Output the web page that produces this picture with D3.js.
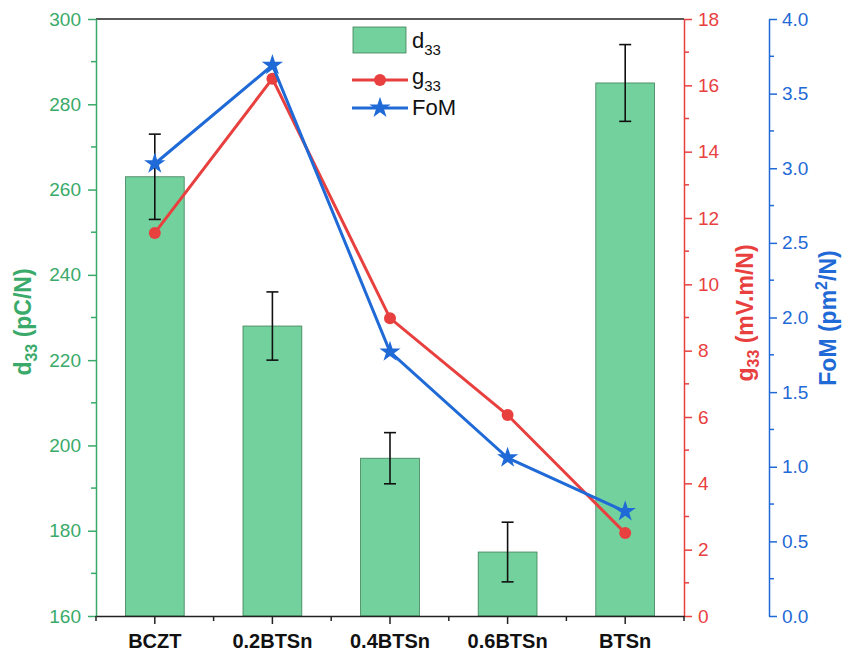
<!DOCTYPE html>
<html>
<head>
<meta charset="utf-8">
<script src="https://cdn.jsdelivr.net/npm/d3@7"></script>
<style>
  body { margin: 0; background: #fff; }
  text { font-family: "Liberation Sans", Arial, sans-serif; }
</style>
</head>
<body>
<svg id="chart" width="844" height="652"></svg>
<script>
const categories = ['BCZT', '0.2BTSn', '0.4BTSn', '0.6BTSn', 'BTSn']
const d33 = [263, 228, 197, 175, 285]
const d33Err = [10, 8, 6, 7, 9]
const g33 = [11.55, 16.2, 8.98, 6.06, 2.5]
const fom = [3.03, 3.69, 1.77, 1.06, 0.7]
const d33Ticks = [160, 180, 200, 220, 240, 260, 280, 300]
const g33Ticks = [0, 2, 4, 6, 8, 10, 12, 14, 16, 18]
const fomTicks = [0, 0.5, 1, 1.5, 2, 2.5, 3, 3.5, 4]

const GREEN = '#3aaa6a'
const BAR = '#72d19c'
const RED = '#e8403f'
const BLUE = '#1f6ad6'

const plotLeft = 96
const plotRight = 684
const plotTop = 19
const plotBottom = 616
const blueX = 769

const svg = d3.select('#chart')

const x = d3.scaleBand().domain(categories).range([plotLeft, plotRight])
  .paddingInner(0.5).paddingOuter(0.25)
const yD = d3.scaleLinear().domain([160, 300]).range([plotBottom, plotTop])
const yG = d3.scaleLinear().domain([0, 18]).range([plotBottom, plotTop])
const yF = d3.scaleLinear().domain([0, 4]).range([plotBottom, plotTop])

// bars
svg.append('g')
  .selectAll('rect')
  .data(categories)
  .enter()
  .append('rect')
  .attr('x', d => x(d))
  .attr('y', (d, i) => yD(d33[i]))
  .attr('width', x.bandwidth())
  .attr('height', (d, i) => plotBottom - yD(d33[i]))
  .attr('fill', BAR)
  .attr('stroke', '#3f7f58')
  .attr('stroke-width', 0.8)

// error bars
const cx = d => x(d) + x.bandwidth() / 2
const err = svg.append('g').attr('stroke', '#111').attr('stroke-width', 1.6)
categories.forEach((c, i) => {
  const hi = yD(d33[i] + d33Err[i])
  const lo = yD(d33[i] - d33Err[i])
  err.append('line').attr('x1', cx(c)).attr('x2', cx(c)).attr('y1', hi).attr('y2', lo)
  err.append('line').attr('x1', cx(c) - 6).attr('x2', cx(c) + 6).attr('y1', hi).attr('y2', hi)
  err.append('line').attr('x1', cx(c) - 6).attr('x2', cx(c) + 6).attr('y1', lo).attr('y2', lo)
})

// g33 line
svg.append('path')
  .datum(categories)
  .attr('fill', 'none')
  .attr('stroke', RED)
  .attr('stroke-width', 3)
  .attr('d', d3.line().x(d => cx(d)).y((d, i) => yG(g33[i])))

svg.append('g')
  .selectAll('circle')
  .data(categories)
  .enter()
  .append('circle')
  .attr('cx', d => cx(d))
  .attr('cy', (d, i) => yG(g33[i]))
  .attr('r', 6)
  .attr('fill', RED)

// FoM line
svg.append('path')
  .datum(categories)
  .attr('fill', 'none')
  .attr('stroke', BLUE)
  .attr('stroke-width', 3)
  .attr('d', d3.line().x(d => cx(d)).y((d, i) => yF(fom[i])))

const star = d3.symbol().type(d3.symbolStar).size(140)
svg.append('g')
  .selectAll('path')
  .data(categories)
  .enter()
  .append('path')
  .attr('transform', (d, i) => `translate(${cx(d)},${yF(fom[i])})`)
  .attr('d', star)
  .attr('fill', BLUE)

// frame top
svg.append('line')
  .attr('x1', plotLeft).attr('x2', plotRight).attr('y1', plotTop).attr('y2', plotTop)
  .attr('stroke', '#222').attr('stroke-width', 1.5)

// minor ticks helper
function minorTicks (g, scale, values, len, dir, color) {
  g.selectAll('.minor')
    .data(values)
    .enter()
    .append('line')
    .attr('class', 'minor')
    .attr('x1', 0).attr('x2', dir * len)
    .attr('y1', d => scale(d)).attr('y2', d => scale(d))
    .attr('stroke', color).attr('stroke-width', 1.5)
}

function styleAxis (g, color) {
  g.select('.domain').attr('stroke', color).attr('stroke-width', 1.5)
  g.selectAll('.tick line').attr('stroke', color).attr('stroke-width', 1.5)
  g.selectAll('.tick text').attr('fill', color).style('font-size', '19px')
}

// left axis
const gL = svg.append('g').attr('transform', `translate(${plotLeft},0)`)
  .call(d3.axisLeft(yD).tickValues(d33Ticks).tickSize(8).tickSizeOuter(0).tickPadding(7))
styleAxis(gL, GREEN)
minorTicks(gL, yD, d3.range(170, 300, 20), 5, -1, GREEN)

// red right axis
const gR = svg.append('g').attr('transform', `translate(${plotRight},0)`)
  .call(d3.axisRight(yG).tickValues(g33Ticks).tickSize(8).tickSizeOuter(0).tickPadding(6))
styleAxis(gR, RED)
minorTicks(gR, yG, d3.range(1, 18, 2), 5, 1, RED)

// blue right axis
const gB = svg.append('g').attr('transform', `translate(${blueX},0)`)
  .call(d3.axisRight(yF).tickValues(fomTicks).tickSize(8).tickSizeOuter(0).tickPadding(5)
    .tickFormat(d3.format('.1f')))
styleAxis(gB, BLUE)
minorTicks(gB, yF, d3.range(0.25, 4, 0.5), 5, 1, BLUE)

// bottom axis
const gX = svg.append('g').attr('transform', `translate(0,${plotBottom})`)
  .call(d3.axisBottom(x).tickSize(8).tickSizeOuter(0).tickPadding(10))
gX.select('.domain').attr('stroke', '#222').attr('stroke-width', 1.5)
gX.selectAll('.tick line').attr('stroke', '#222').attr('stroke-width', 1.5)
gX.selectAll('.tick text').attr('fill', '#111').style('font-size', '20px').style('font-weight', 'bold')
const step = x.step()
gX.selectAll('.minor')
  .data(d3.range(0, categories.length + 1))
  .enter()
  .append('line')
  .attr('x1', i => plotLeft + i * step).attr('x2', i => plotLeft + i * step)
  .attr('y1', 0).attr('y2', 5)
  .attr('stroke', '#222').attr('stroke-width', 1.5)

// axis titles
function axisTitle (xp, yp, color, main, sub, rest, sup, tail) {
  const t = svg.append('text')
    .attr('transform', `translate(${xp},${yp}) rotate(-90)`)
    .attr('text-anchor', 'middle')
    .attr('fill', color)
    .style('font-size', '23px')
    .style('font-weight', 'bold')
  t.append('tspan').text(main)
  if (sub) t.append('tspan').attr('dy', 6).style('font-size', '16px').text(sub)
  t.append('tspan').attr('dy', sub ? -6 : 0).text(rest)
  if (sup) {
    t.append('tspan').attr('dy', -9).style('font-size', '16px').text(sup)
    t.append('tspan').attr('dy', 9).text(tail)
  }
}
axisTitle(31, 322, GREEN, 'd', '33', ' (pC/N)')
axisTitle(753, 313, RED, 'g', '33', ' (mV.m/N)')
axisTitle(836, 318, BLUE, 'FoM (pm', null, '', '2', '/N)')

// legend
const lg = svg.append('g')
lg.append('rect').attr('x', 353).attr('y', 27).attr('width', 53).attr('height', 26)
  .attr('fill', BAR).attr('stroke', '#3f7f58').attr('stroke-width', 0.8)
lg.append('line').attr('x1', 352).attr('x2', 408).attr('y1', 80).attr('y2', 80)
  .attr('stroke', RED).attr('stroke-width', 3)
lg.append('circle').attr('cx', 380).attr('cy', 80).attr('r', 6).attr('fill', RED)
lg.append('line').attr('x1', 352).attr('x2', 408).attr('y1', 108).attr('y2', 108)
  .attr('stroke', BLUE).attr('stroke-width', 3)
lg.append('path').attr('transform', 'translate(380,108)').attr('d', star).attr('fill', BLUE)

function legendText (yp, main, sub) {
  const t = lg.append('text').attr('x', 412).attr('y', yp)
    .attr('fill', '#111').style('font-size', '22px')
  t.append('tspan').text(main)
  if (sub) t.append('tspan').attr('dy', 7).style('font-size', '15px').text(sub)
}
legendText(48, 'd', '33')
legendText(84, 'g', '33')
legendText(115, 'FoM')
</script>
</body>
</html>
